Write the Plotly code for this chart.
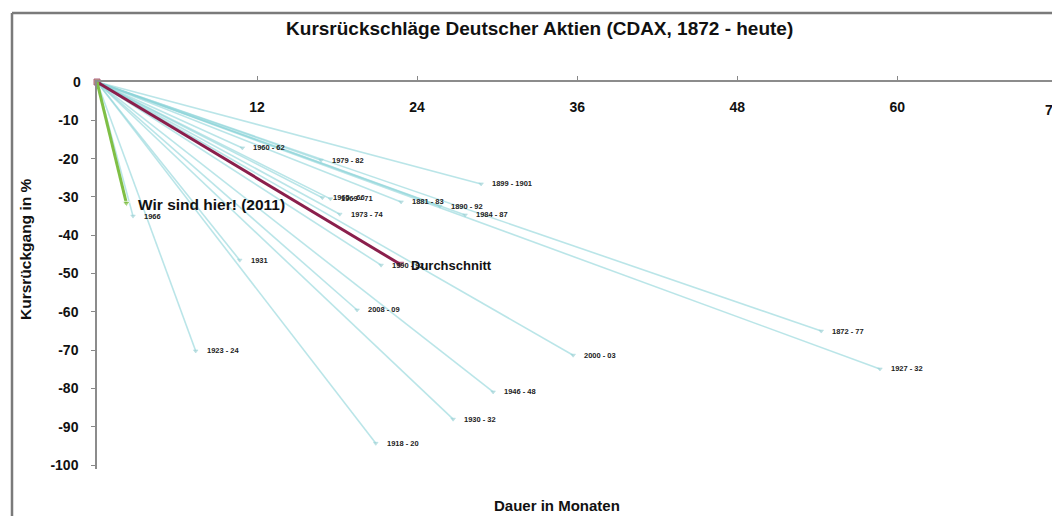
import plotly.graph_objects as go

# ---- data ----
labels = ["1960 - 62", "1979 - 82", "1899 - 1901", "1965 - 66", "1969 - 71", "1973 - 74",
          "1881 - 83", "1890 - 92", "1984 - 87", "1966", "1931", "1990 - 92", "2008 - 09",
          "1923 - 24", "2000 - 03", "1946 - 48", "1930 - 32", "1918 - 20", "1872 - 77", "1927 - 32"]
months = [10.9, 16.8, 28.8, 16.9, 17.5, 18.2, 22.8, 25.7, 27.6, 2.7, 10.7, 21.3, 19.5,
          7.4, 35.7, 29.7, 26.7, 20.9, 54.3, 58.7]
drops = [-17.2, -20.4, -26.6, -30.2, -30.5, -34.5, -31.3, -32.4, -34.7, -35.0, -46.5, -47.8, -59.5,
         -70.2, -71.3, -80.9, -88.0, -94.3, -65.0, -74.9]

avg_label = "Durchschnitt"
avg_month, avg_drop = 22.7, -47.5
now_label = "Wir sind hier! (2011)"
now_month, now_drop = 2.2, -31.6

x_ticks = [12, 24, 36, 48, 60]
y_ticks = [-10, -20, -30, -40, -50, -60, -70, -80, -90, -100]

FONT = "Liberation Sans, Arial, sans-serif"
L, T, B = 97, 82, 47
PW, PH = 1052 - L, 516 - T - B

fig = go.Figure()

for lab, m, d in zip(labels, months, drops):
    fig.add_trace(go.Scatter(
        x=[0, m], y=[0, d], mode="lines+markers",
        line=dict(color="rgba(140,212,216,0.6)", width=1.6),
        marker=dict(size=[0, 4], color="#a9cfd2", symbol="triangle-down"),
        cliponaxis=False, showlegend=False, hoverinfo="skip"))
    fig.add_annotation(x=m, y=d, text=lab, showarrow=False, xanchor="left", yanchor="middle",
                       xshift=9, font=dict(family=FONT, size=7.5, color="#222222", weight="bold"))

fig.add_trace(go.Scatter(
    x=[0, avg_month], y=[0, avg_drop], mode="lines+markers",
    line=dict(color="#8a1f4c", width=3),
    marker=dict(size=[6, 7], color=["#a8884a", "#6a2040"], symbol=["square", "triangle-down"]),
    cliponaxis=False, showlegend=False, hoverinfo="skip"))
fig.add_annotation(x=avg_month, y=avg_drop, text=avg_label, showarrow=False,
                   xanchor="left", yanchor="middle", xshift=9, yshift=-1,
                   font=dict(family=FONT, size=13, color="#111111", weight="bold"))

fig.add_trace(go.Scatter(
    x=[0, now_month], y=[0, now_drop], mode="lines+markers",
    line=dict(color="#7fbf45", width=3),
    marker=dict(size=[0, 7], color="#7fbf45", symbol="triangle-down"),
    cliponaxis=False, showlegend=False, hoverinfo="skip"))
fig.add_annotation(x=now_month, y=now_drop, text=now_label, showarrow=False,
                   xanchor="left", yanchor="middle", xshift=10, yshift=-1,
                   font=dict(family=FONT, size=15.5, color="#111111", weight="bold"))

fig.update_layout(
    width=1052, height=516,
    margin=dict(l=L, r=0, t=T, b=B, autoexpand=False),
    paper_bgcolor="white", plot_bgcolor="white",
    font=dict(family=FONT, color="#111111"),
    title=dict(text="Kursrückschläge Deutscher Aktien (CDAX, 1872 - heute)",
               x=0.513, xref="container", xanchor="center",
               y=1 - 28 / 516, yref="container", yanchor="middle",
               font=dict(family=FONT, size=19, color="#111111", weight="bold")),
)

fig.update_xaxes(
    range=[0, 71.6], side="top", anchor="y", automargin=False,
    tickvals=x_ticks, ticktext=[str(v) for v in x_ticks],
    ticks="outside", ticklen=4, tickcolor="#888888",
    ticklabelposition="inside", ticklabelstandoff=20,
    tickfont=dict(family=FONT, size=14, color="#111111", weight="bold"),
    showline=True, linecolor="#8c8c8c", linewidth=1.5,
    showgrid=False, zeroline=False)

fig.update_yaxes(
    range=[-101, 0], automargin=False,
    tickvals=y_ticks, ticktext=[str(v) for v in y_ticks],
    ticks="outside", ticklen=4, tickcolor="#888888",
    ticklabelstandoff=10,
    tickfont=dict(family=FONT, size=14, color="#111111", weight="bold"),
    showline=True, linecolor="#8c8c8c", linewidth=1.5,
    showgrid=False, zeroline=False)

tick_font = dict(family=FONT, size=14, color="#111111", weight="bold")
# "0" label of the y axis (at the corner where the x axis runs)
fig.add_annotation(text="0", xref="paper", yref="paper", x=0, y=1, xanchor="right",
                   yanchor="middle", xshift=-14, showarrow=False, font=tick_font)
# clipped "72" tick at the right edge
fig.add_annotation(text="72", xref="paper", yref="paper", x=1.0, y=1, xanchor="center",
                   yanchor="top", yshift=-18, xshift=1, showarrow=False, font=tick_font)

# axis titles
fig.add_annotation(text="Dauer in Monaten", xref="paper", yref="paper",
                   x=(557 - L) / PW, y=-(505 - (T + PH)) / PH, showarrow=False,
                   xanchor="center", yanchor="middle",
                   font=dict(family=FONT, size=15, color="#111111", weight="bold"))
fig.add_annotation(text="Kursrückgang in %", xref="paper", yref="paper",
                   x=-(L - 25) / PW, y=1 - (250 - T) / PH, showarrow=False,
                   textangle=-90, xanchor="center", yanchor="middle",
                   font=dict(family=FONT, size=15.5, color="#111111", weight="bold"))

# outer chart frame (gray border)
ytop = 1 + (T - 13) / PH
xleft = -(L - 12) / PW
fig.add_shape(type="line", xref="paper", yref="paper",
              x0=xleft, x1=1.01, y0=ytop, y1=ytop,
              line=dict(color="#7a7a7a", width=2.5))
fig.add_shape(type="line", xref="paper", yref="paper",
              x0=xleft, x1=xleft, y0=ytop, y1=-0.2,
              line=dict(color="#7a7a7a", width=2.5))

fig.write_html("out.html", config={"displayModeBar": False},
               post_script="document.body.style.margin='0';document.body.style.overflow='hidden';")
